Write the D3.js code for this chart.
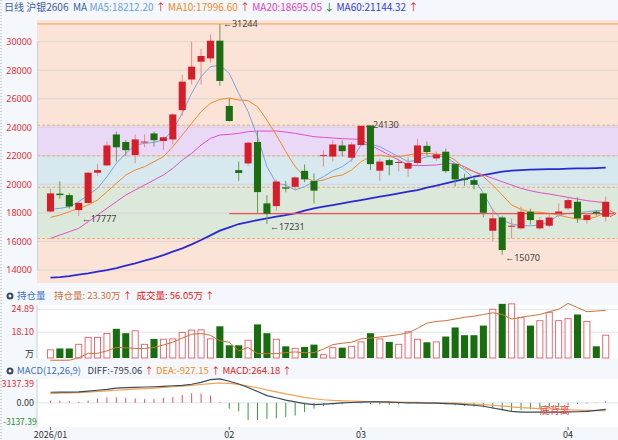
<!DOCTYPE html>
<html><head><meta charset="utf-8">
<script src="https://cdn.jsdelivr.net/npm/d3@7"></script>
<style>body{margin:0;background:#f4f7fb;font-family:"Noto Sans CJK SC","Noto Sans",sans-serif}</style>
</head><body><svg id="c" width="618" height="440"></svg>
<script>
const open_ = [18100,19350,19250,18200,18700,20820,21330,23500,22970,22060,22950,23570,23040,23150,25200,27350,28600,28830,30070,25500,21000,21470,22970,18670,18480,19790,19830,20950,20230,22000,21950,22730,21870,22760,24130,20960,21700,21520,21100,21500,22700,21820,22290,21420,20420,20300,19370,16750,17680,17050,16920,18080,16920,17100,17960,18320,18780,17500,18080,17730];
const close_= [19370,19250,18450,18700,20820,21000,22730,22600,22400,23150,23000,23100,23300,24900,27200,28250,29000,30070,27250,24440,20800,22920,19460,17950,20200,19700,20490,20350,19560,22050,22800,22330,22800,24100,21420,21600,21350,21570,21500,22730,22270,22100,20930,20350,20300,19970,18010,17620,15400,17100,18080,17500,17500,17680,18100,18900,17620,17850,17970,18780];
const high_ = [19700,20200,19400,18800,20850,21450,23000,23700,23100,23500,23500,23700,23350,25000,27700,30000,29500,30500,31244,26050,21600,23000,23750,19250,20350,20250,20550,21400,20770,22400,23100,23100,22950,24130,24130,21800,21800,21800,21900,23200,23000,22300,22500,21500,20750,20500,19370,18300,17800,17600,18450,18300,17700,17900,18650,19050,19100,18000,18200,19150];
const low_  = [18050,19000,18300,17777,18650,20600,21300,21600,22000,21500,22600,22650,22400,22800,24800,27000,27000,28550,26900,24400,20250,21300,17950,17231,18150,19450,19650,20150,18670,21250,21600,21950,21600,22700,21000,20250,20630,20900,20550,21350,22000,21650,20800,19850,19900,19650,17700,16000,15070,16200,16850,17200,16800,17000,17700,18200,17300,17250,17800,17400];
const ma5Zy  = [568,565,560,545,525,505,470,430,400,375,370,367,360,330,280,220,170,140,135,160,220,275,350,440,490,495,510,500,485,470,452,440,420,375,372,380,395,410,425,420,410,408,410,430,450,475,520,570,600,612,617,617,615,605,585,580,578,575,572,570];
const ma10Zy = [592,585,575,565,555,540,515,490,465,450,440,425,410,380,345,310,275,250,238,234,240,242,260,300,345,395,440,470,485,480,470,465,450,425,410,405,410,410,405,400,400,402,405,420,445,455,470,495,525,555,568,576,577,580,585,592,597,598,590,578];
const ma20Zy = [655,645,635,625,605,585,565,545,525,510,495,480,465,445,420,400,375,355,345,343,340,335,333,333,333,336,340,345,350,352,354,356,357,358,375,390,405,420,435,437,436,435,430,430,440,455,465,475,485,495,505,512,518,522,527,532,537,542,545,548];
const ma60Zy = [773,771,768,764,760,755,750,744,737,730,722,714,705,695,685,673,660,646,632,622,612,606,600,595,590,585,580,572,565,560,555,550,545,540,535,530,525,520,515,510,503,497,490,483,477,470,465,460,455,452,450,449,448,447,447,446,445,445,444,443];
const volume = [12.85,13.26,13.26,14.5,16.56,16.56,17.7,19.1,17.8,18.5,14.5,16.1,16.0,16.1,18.0,18.7,18.8,16.1,19.85,14.2,14.2,15.7,20.4,17.8,16.0,13.9,13.3,13.7,14.4,11.4,13.5,13.5,13.9,15.2,17.8,16.1,15.2,14.5,18.2,16.0,15.1,15.2,16.8,19.5,17.2,17.2,20.05,24.9,26.5,26.5,22.4,20.05,21.5,24.0,21.5,22.1,23.35,21.3,13.9,17.2];
const volUp = [1,0,0,1,1,1,1,0,0,1,1,0,1,1,1,1,1,1,0,0,0,1,0,0,1,0,1,0,0,1,1,0,1,1,0,1,0,1,1,1,0,1,0,0,0,0,0,1,0,1,1,0,1,1,1,1,0,1,0,1];
const openInt = [9.77,9.77,9.77,10.49,11.82,11.82,12.54,13.57,13.47,13.26,13.26,13.57,14.29,15.12,16.35,17.48,17.69,17.17,15.53,15.12,12.54,13.57,11.72,11.72,11.72,12.03,12.23,12.03,12.03,13.06,14.40,14.81,15.12,16.14,16.35,16.66,16.97,17.38,17.89,19.23,20.78,21.29,21.50,22.01,22.52,22.83,23.35,23.86,23.35,22.01,22.52,22.94,23.35,24.17,24.89,26.64,25.41,24.17,24.38,24.58];
const diff = [1767,1790,1800,1824,1950,2100,2250,2451,2520,2580,2640,2679,2750,2850,2907,3100,3400,3876,3990,3591,3135,2565,1881,1197,855,456,171,-114,-285,-228,-114,0,57,114,171,171,114,57,0,0,-57,-57,-114,-171,-285,-399,-570,-855,-1140,-1425,-1539,-1539,-1539,-1539,-1539,-1500,-1482,-1425,-1254,-1083];
const dea = [1539,1600,1650,1710,1800,1900,2000,2100,2200,2280,2370,2451,2560,2680,2800,2907,3050,3200,3306,3250,3078,2793,2508,2166,1824,1482,1197,912,684,513,399,340,285,250,210,171,150,120,100,80,57,20,-20,-60,-114,-200,-300,-399,-530,-660,-798,-880,-950,-1026,-1090,-1150,-1197,-1240,-1280,-1311];
const macd = [400,340,285,170,400,740,910,910,855,740,630,630,800,970,1310,1600,1540,1200,170,-970,-1430,-2850,-2850,-2680,-2570,-2340,-2110,-1540,-970,-570,-285,-170,-60,-110,-170,-230,-340,-230,-110,-110,-60,-170,-230,-400,-510,-630,-740,-970,-1250,-1430,-1140,-1080,-970,-855,-685,-400,-230,-110,60,264];
const priceTicks = [14000,16000,18000,20000,22000,24000,26000,28000,30000];
const dateTicks = [[0,"2026/01"],[19,"02"],[33,"03"],[55,"04"]];
const marks = [[18,31244,"high"],[3,17777,"low"],[23,17231,"low"],[33,24130,"high"],[48,15070,"low"]];

const svg = d3.select("#c");
const N = open_.length, idx = d3.range(N);
const x = d3.scaleBand().domain(idx).range([44.6, 44.6 + N*9.45]).padding(0.25);
const cx = i => x(i) + x.bandwidth()/2;
const y = d3.scaleLinear().domain([14000,30000]).range([270,41.7]);
const zyToPrice = zy => 30000 - (zy-65)*23.36;
const L = 37, R = 618;
const hdr = svg.append("text").attr("x",4).attr("y",11).attr("font-size",10);
[["日线 沪银2606  ","#3b5f9e"],["MA ","#3b5f9e"],["MA5:18212.20","#6fa0e0"],[" ↑ ","#e02020"],["MA10:17996.60","#f08a24"],[" ↑ ","#e02020"],["MA20:18695.05","#e040c0"],[" ↓ ","#1a8a1a"],["MA60:21144.32","#3a3adc"],[" ↑","#e02020"]].forEach(([t,c])=>hdr.append("tspan").attr("fill",c).attr("xml:space","preserve").text(t));
svg.append("line").attr("x1",1).attr("x2",1).attr("y1",0).attr("y2",440).attr("stroke","#aab").attr("stroke-dasharray","1,2");
svg.append("rect").attr("x",L).attr("y",20).attr("width",R-L).attr("height",263).attr("fill","#fbe4d7");
const bands=[[22000,24150,"#ead9f6"],[19800,22000,"#d7e8ee"],[16200,19800,"#dbe8da"]];
bands.forEach(([a,b,c])=>svg.append("rect").attr("x",L).attr("width",R-L).attr("y",y(b)).attr("height",y(a)-y(b)).attr("fill",c));
priceTicks.forEach(v=>svg.append("line").attr("x1",L).attr("x2",R).attr("y1",y(v)).attr("y2",y(v)).attr("stroke","#d9cfd0").attr("stroke-width",0.8));
[24150,22000,19800,16200].forEach(v=>svg.append("line").attr("x1",L).attr("x2",R).attr("y1",y(v)).attr("y2",y(v)).attr("stroke","#e8a060").attr("stroke-dasharray","3,2").attr("stroke-width",0.8));
svg.append("line").attr("x1",L).attr("x2",R).attr("y1",y(31244)).attr("y2",y(31244)).attr("stroke","#e8a060").attr("stroke-width",1);
svg.append("g").attr("transform",`translate(${L},0)`).call(d3.axisLeft(y).tickValues(priceTicks).tickSize(0).tickPadding(5).tickFormat(d3.format("d")))
 .call(g=>{g.select(".domain").attr("stroke","#c8d0dc");g.selectAll("text").attr("fill","#e0303a").attr("font-size",9).attr("font-family","Noto Sans");});
const line = arr => d3.line().x((d,i)=>cx(i)).y(d=>y(zyToPrice(d)))(arr);
[[ma60Zy,"#2a2ad0",1.8],[ma20Zy,"#e050c8",1],[ma10Zy,"#f08a24",1],[ma5Zy,"#78a4e0",1]].forEach(([a,c,w])=>svg.append("path").attr("d",line(a)).attr("fill","none").attr("stroke",c).attr("stroke-width",w));
svg.append("line").attr("x1",cx(19)).attr("x2",R-4).attr("y1",y(17950)).attr("y2",y(17950)).attr("stroke","#f05050").attr("stroke-width",1.2);
svg.append("path").attr("d",`M${R-8},${y(17950)-3}L${R-2},${y(17950)}L${R-8},${y(17950)+3}`).attr("fill","none").attr("stroke","#f05050");
idx.forEach(i=>{
  const up = close_[i]>=open_[i], c = up?"#d61e2a":"#1c6e10", wc = up?"#e88890":"#6a9a50";
  svg.append("line").attr("x1",cx(i)).attr("x2",cx(i)).attr("y1",y(high_[i])).attr("y2",y(low_[i])).attr("stroke",wc);
  const t=y(Math.max(open_[i],close_[i])), b=y(Math.min(open_[i],close_[i]));
  svg.append("rect").attr("x",x(i)).attr("width",x.bandwidth()).attr("y",t).attr("height",Math.max(1,b-t)).attr("fill",c);
});
marks.forEach(([i,v,k])=>{
  svg.append("text").attr("x",cx(i)+3).attr("y",y(v)+(k==="high"?3:6)).attr("font-size",9).attr("fill","#444").attr("font-family","Noto Sans").text("←"+v);
});
const vTop=305, vBot=358;
svg.append("rect").attr("x",L).attr("y",vTop).attr("width",R-L).attr("height",vBot-vTop).attr("fill","#fff");
const yv = d3.scaleLinear().domain([10.43,24.89]).range([vBot,309.3]);
[24.89,18.10].forEach(v=>svg.append("line").attr("x1",L).attr("x2",R).attr("y1",yv(v)).attr("y2",yv(v)).attr("stroke","#dde4ee"));
svg.append("line").attr("x1",L).attr("x2",L).attr("y1",vTop).attr("y2",vBot).attr("stroke","#c8d0dc");
svg.append("circle").attr("cx",10).attr("cy",296).attr("r",3.5).attr("fill","#3b4a5e");svg.append("circle").attr("cx",10).attr("cy",296).attr("r",1.4).attr("fill","#fff");
const vh = svg.append("text").attr("x",17).attr("y",299).attr("font-size",9.5);
[["持仓量    ","#3b6fc0"],["持仓量: 23.30万","#c8743a"],[" ↑  ","#e02020"],["成交量: 56.05万","#e02020"],[" ↑","#e02020"]].forEach(([t,c])=>vh.append("tspan").attr("fill",c).attr("xml:space","preserve").text(t));
[[24.89,"24.89","#e0303a"],[18.10,"18.10","#e0303a"]].forEach(([v,t,c])=>svg.append("text").attr("x",34).attr("y",yv(v)+3).attr("text-anchor","end").attr("font-size",9).attr("fill",c).text(t));
svg.append("text").attr("x",34).attr("y",357).attr("text-anchor","end").attr("font-size",9).attr("fill","#333").text("万");
idx.forEach(i=>{
  const t=yv(volume[i]);
  if(volUp[i]) svg.append("rect").attr("x",x(i)+0.5).attr("width",x.bandwidth()-1).attr("y",t).attr("height",vBot-t).attr("fill","#fff").attr("stroke","#e85a64").attr("stroke-width",0.9);
  else svg.append("rect").attr("x",x(i)).attr("width",x.bandwidth()).attr("y",t).attr("height",vBot-t).attr("fill","#186e0e");
});
svg.append("path").attr("d",d3.line().x((d,i)=>cx(i)).y(d=>yv(d))(openInt)).attr("fill","none").attr("stroke","#c8743a").attr("stroke-width",1);
const mTop=379, mBot=427;
svg.append("rect").attr("x",L).attr("y",mTop).attr("width",R-L).attr("height",mBot-mTop).attr("fill","#fff");
const ym = d3.scaleLinear().domain([-3137.39,3137.39]).range([421.7,384]);
svg.append("line").attr("x1",L).attr("x2",R).attr("y1",ym(0)).attr("y2",ym(0)).attr("stroke","#dde4ee");
svg.append("line").attr("x1",L).attr("x2",L).attr("y1",mTop).attr("y2",mBot).attr("stroke","#c8d0dc");
svg.append("circle").attr("cx",10).attr("cy",371).attr("r",3.5).attr("fill","#3b4a5e");svg.append("circle").attr("cx",10).attr("cy",371).attr("r",1.4).attr("fill","#fff");
const mh = svg.append("text").attr("x",17).attr("y",374).attr("font-size",9.5);
[["MACD(12,26,9)   ","#3b6fc0"],["DIFF:-795.06","#3b4050"],[" ↑ ","#e02020"],["DEA:-927.15","#f08a24"],[" ↑ ","#e02020"],["MACD:264.18","#e02020"],[" ↑","#e02020"]].forEach(([t,c])=>mh.append("tspan").attr("fill",c).attr("xml:space","preserve").text(t));
[[3137.39,"3137.39","#e0303a"],[0,"0.00","#333"]].forEach(([v,t,c])=>svg.append("text").attr("x",34).attr("y",ym(v)+3).attr("text-anchor","end").attr("font-size",9).attr("fill",c).text(t));
svg.append("text").attr("x",3).attr("y",ym(-3137.39)+3).attr("font-size",8.5).attr("fill","#2a8a2a").text("-3137.39");
idx.forEach(i=>svg.append("line").attr("x1",cx(i)).attr("x2",cx(i)).attr("y1",ym(0)).attr("y2",ym(macd[i])).attr("stroke",macd[i]>=0?"#e8505a":"#3a9a30").attr("stroke-width",1));
svg.append("path").attr("d",d3.line().x((d,i)=>cx(i)).y(d=>ym(d))(dea)).attr("fill","none").attr("stroke","#f0a050").attr("stroke-width",1.2);
svg.append("path").attr("d",d3.line().x((d,i)=>cx(i)).y(d=>ym(d))(diff)).attr("fill","none").attr("stroke","#3b4a5e").attr("stroke-width",1.2);
svg.append("text").attr("x",cx(52)).attr("y",414).attr("font-size",10).attr("fill","#e04040").text("底背离");
dateTicks.forEach(([i,t])=>{
  svg.append("line").attr("x1",cx(i)).attr("x2",cx(i)).attr("y1",mBot).attr("y2",mBot+3).attr("stroke","#667");
  svg.append("text").attr("x",cx(i)).attr("y",438).attr("text-anchor","middle").attr("font-size",9).attr("fill","#333").text(t);
});
</script></body></html>
